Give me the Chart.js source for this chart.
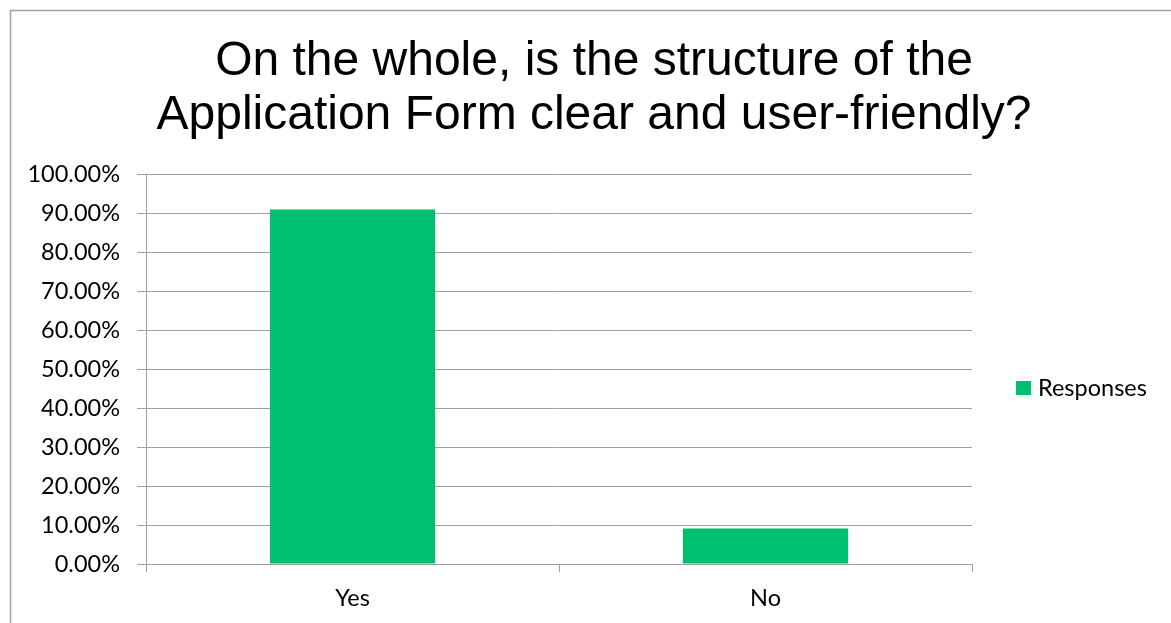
<!DOCTYPE html>
<html>
<head>
<meta charset="utf-8">
<title>Application Form survey</title>
<script src="https://cdn.jsdelivr.net/npm/chart.js@4"></script>
<style>
  html, body { margin: 0; padding: 0; background: #fff; }
  canvas { display: block; }
</style>
</head>
<body>
<canvas id="surveyChart" width="1171" height="623"></canvas>
<script>
const categories = ['Yes', 'No'];
const responses = [90.91, 9.09];
const seriesName = 'Responses';
const titleLines = ['On the whole, is the structure of the', 'Application Form clear and user-friendly?'];

const BAR_GREEN = '#00bf6f';
const GRID_GREY = '#a0a0a0';
const LABEL_FONT = 'Lato, "Open Sans", sans-serif';
const LABEL_SIZE = 23.5;

// outer frame, cut off at the right and bottom edges
const framePlugin = {
    id: 'frame',
    beforeDraw(chart) {
        const ctx = chart.ctx;
        ctx.save();
        ctx.strokeStyle = GRID_GREY;
        ctx.lineWidth = 1.5;
        ctx.beginPath();
        ctx.moveTo(10.5, chart.height);
        ctx.lineTo(10.5, 10.5);
        ctx.lineTo(chart.width, 10.5);
        ctx.stroke();
        ctx.restore();
    }
};

// legend drawn by hand in the empty strip right of the plot
const sideLegend = {
    id: 'sideLegend',
    afterDraw(chart) {
        const ctx = chart.ctx;
        const area = chart.chartArea;
        const ds = chart.data.datasets[0];
        const x = area.right + 44;
        const y = (area.top + area.bottom) / 2 + 19;
        ctx.save();
        ctx.fillStyle = ds.backgroundColor;
        ctx.fillRect(x, y - 7, 15, 14);
        ctx.fillStyle = '#000';
        ctx.font = LABEL_SIZE + 'px ' + LABEL_FONT;
        ctx.textBaseline = 'middle';
        ctx.fillText(ds.label, x + 22, y);
        ctx.restore();
    }
};

new Chart(document.getElementById('surveyChart'), {
    type: 'bar',
    data: {
        labels: categories,
        datasets: [{
            label: seriesName,
            data: responses,
            backgroundColor: BAR_GREEN,
            barPercentage: 0.4,
            categoryPercentage: 1.0
        }]
    },
    options: {
        responsive: false,
        animation: false,
        layout: { padding: { left: 17, right: 0, top: 0, bottom: 0 } },
        plugins: {
            legend: { display: false },
            tooltip: { enabled: false },
            title: {
                display: true,
                text: titleLines,
                color: '#000',
                font: { family: '"Liberation Sans", Arial, sans-serif', size: 48, weight: 'normal', lineHeight: 1.125 },
                padding: { top: 35, bottom: 31 }
            }
        },
        scales: {
            x: {
                grid: { offset: true, drawOnChartArea: false, color: GRID_GREY, tickLength: 8 },
                border: { color: GRID_GREY },
                ticks: { color: '#000', font: { family: LABEL_FONT, size: LABEL_SIZE }, padding: 12 },
                afterFit(scale) { scale.height = 59; }
            },
            y: {
                min: 0,
                max: 100,
                grid: { color: GRID_GREY, tickLength: 9 },
                border: { color: GRID_GREY },
                ticks: {
                    stepSize: 10,
                    color: '#000',
                    font: { family: LABEL_FONT, size: LABEL_SIZE },
                    padding: 17,
                    callback: v => v.toFixed(2) + '%'
                },
                afterFit(scale) { scale.width = 129; }
            },
            // empty right-hand axis that only reserves room for the legend
            legendRoom: {
                type: 'linear',
                position: 'right',
                grid: { display: false },
                border: { display: false },
                ticks: { display: false },
                afterFit(scale) { scale.width = 199; }
            }
        }
    },
    plugins: [framePlugin, sideLegend]
});
</script>
</body>
</html>
